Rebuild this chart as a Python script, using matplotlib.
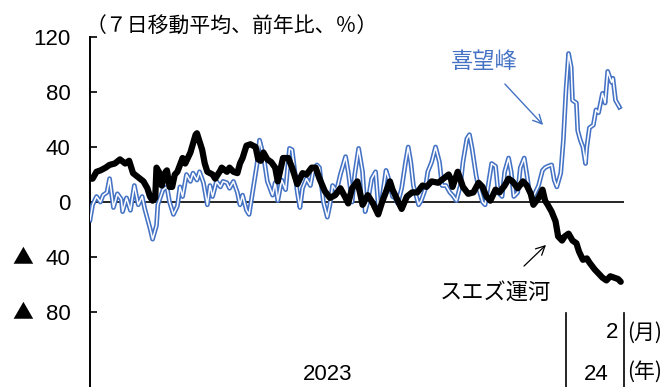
import matplotlib
matplotlib.use("Agg")
import matplotlib.pyplot as plt
import matplotlib.patheffects as pe
import matplotlib.transforms as mtransforms
import pandas as pd


# Cape of Good Hope (喜望峰): 7-day moving average, % y/y
# days counted from 2023-01-01
hope_days = [0, 2, 5, 8, 10, 13, 15, 18, 21, 24, 25, 28, 31, 34, 37, 40, 42, 46, 48, 51,
             52, 56, 59, 61, 64, 67, 69, 71, 74, 77, 79, 82, 84, 87, 90, 92, 94, 97, 100, 102,
             105, 107, 110, 113, 115, 117, 120, 122, 125, 128, 130, 133, 136, 140, 142, 144, 147, 150, 153, 155,
             159, 161, 163, 166, 169, 171, 174, 176, 179, 182, 184, 186, 189, 192, 196, 198, 201, 203, 206, 209,
             211, 213, 216, 219, 221, 224, 227, 229, 232, 234, 236, 239, 242, 244, 246, 248, 252, 254, 257, 259,
             262, 265, 268, 270, 273, 276, 278, 281, 284, 286, 289, 291, 293, 296, 298, 301, 303, 305, 308, 311,
             313, 316, 318, 321, 323, 325, 328, 330, 333, 335, 337, 340, 344, 347, 349, 351, 354, 356, 358, 361,
             363, 365, 367, 369, 370, 373, 374, 376, 378, 380, 381, 383, 386, 388, 390, 393, 395, 397, 400, 401,
             403, 406]
hope_vals = [-13, -2, 4, 0, 5, 7, 17, -4, 6, 2, -7, 3, -6, 12, -2, 4, -5, -19, -27, -17,
             -2, 9, 11, 0, -9, -3, 11, 4, 20, 15, 21, 16, 22, 14, -2, 12, 4, 15, 11, 15,
             14, 10, 15, 7, -2, 5, -6, -9, 9, 27, 45, 34, 15, 5, 14, 1, 16, 9, 39, 38,
             7, -4, 10, 17, 12, 22, 27, 25, 0, -11, -2, 12, 8, 20, 33, 22, 0, 20, 39, 22,
             -7, 0, 17, 22, -2, 3, 23, 17, 4, 3, -1, 10, 29, 40, 29, 12, -2, 1, 9, 22,
             29, 40, 29, 12, 12, 7, 5, 1, 12, 29, 46, 49, 39, 20, 10, 0, -2, 10, 28, 26,
             7, 4, 22, 32, 22, 4, 7, 25, 32, 20, 7, 4, 12, 23, 25, 26, 27, 16, 11, 21,
             45, 81, 108, 98, 74, 72, 52, 45, 40, 28, 40, 54, 56, 67, 65, 79, 72, 95, 87, 90,
             74, 69]

# Suez Canal (スエズ運河)
suez_days = [0, 2, 5, 8, 12, 15, 19, 23, 27, 30, 33, 37, 41, 44, 46, 48, 50, 51, 54, 55,
             58, 59, 61, 63, 65, 67, 71, 73, 77, 81, 82, 84, 86, 88, 90, 94, 96, 100, 101, 105,
             107, 110, 113, 115, 117, 120, 123, 127, 129, 131, 133, 136, 139, 142, 144, 148, 152, 155, 159, 163,
             166, 170, 173, 176, 180, 184, 188, 192, 196, 198, 201, 205, 207, 209, 213, 217, 221, 224, 228, 230,
             232, 236, 239, 243, 247, 251, 255, 258, 262, 267, 271, 275, 277, 278, 282, 286, 290, 294, 298, 301,
             304, 307, 311, 314, 318, 321, 324, 328, 332, 335, 338, 340, 344, 347, 349, 351, 354, 357, 359, 362,
             364, 367, 370, 373, 375, 378, 381, 383, 387, 390, 393, 396, 399, 402, 405, 407]
suez_vals = [17, 17, 22, 23, 25, 27, 28, 31, 28, 30, 21, 18, 15, 10, 4, 1, 3, 25, 20, 12,
             22, 23, 11, 11, 20, 22, 32, 28, 36, 49, 50, 44, 38, 28, 22, 20, 17, 23, 25, 22,
             25, 22, 21, 28, 32, 41, 42, 40, 31, 30, 36, 31, 29, 25, 15, 32, 32, 25, 13, 21,
             20, 25, 25, 17, 8, 3, 5, 10, 3, -1, 10, 15, 7, -2, 5, -1, -9, 0, 10, 15,
             9, 1, -5, 4, 7, 7, 12, 11, 15, 14, 17, 20, 16, 11, 22, 11, 6, 7, 14, 11,
             4, 1, 9, 7, 12, 17, 15, 10, 15, 12, 6, -2, 3, 9, 1, -2, -7, -14, -25, -28,
             -25, -23, -28, -30, -36, -42, -41, -44, -49, -52, -55, -57, -54, -55, -56, -58]

y_ticks = [120, 80, 40, 0, -40, -80]
y_tick_labels = ["120", "80", "40", "0", "40", "80"]

BLUE = "#4472C4"


def main():
    assert len(hope_days) == len(hope_vals)
    assert len(suez_days) == len(suez_vals)

    plt.rcParams["font.family"] = ["Liberation Sans", "Noto Sans CJK JP", "DejaVu Sans"]
    cjk = ["Noto Sans CJK JP", "DejaVu Sans"]

    W, H = 671, 387
    fig = plt.figure(figsize=(W / 100, H / 100), dpi=100)
    ax = fig.add_axes([90 / W, 0, (624 - 90) / W, 1 - 37 / H])

    base = pd.Timestamp("2023-01-01")
    hope_dates = base + pd.to_timedelta(hope_days, unit="D")
    suez_dates = base + pd.to_timedelta(suez_days, unit="D")

    # blue line drawn as an outline (blue edge, white core)
    ax.plot(hope_dates, hope_vals, color="white", lw=1.1, zorder=3,
            path_effects=[pe.Stroke(linewidth=3.4, foreground=BLUE), pe.Normal()])
    ax.plot(suez_dates, suez_vals, color="black", lw=4.5, zorder=4,
            solid_joinstyle="round", solid_capstyle="round")

    ax.axhline(0, color="black", lw=1.2, zorder=2)

    ax.set_xlim(base, base + pd.Timedelta(days=409.5))
    ax.set_ylim(-134.5, 120)
    ax.set_yticks(y_ticks)
    ax.set_yticklabels(y_tick_labels)
    ax.tick_params(axis="y", direction="in", length=5, width=1.2, labelsize=16, pad=14)
    ax.tick_params(axis="x", bottom=False, labelbottom=False)
    for s in ["top", "right", "bottom"]:
        ax.spines[s].set_visible(False)
    ax.spines["left"].set_linewidth(1.4)

    # ▲ marks negative values (Japanese convention)
    trans = mtransforms.blended_transform_factory(fig.transFigure, ax.transData)
    for v in y_ticks:
        if v < 0:
            ax.text(23 / W, v, "▲", transform=trans, fontsize=15, ha="center", va="center",
                    family=cjk)

    # year separators in the category area
    frac = (-80.7 + 134.5) / 254.5
    ax.axvline(pd.Timestamp("2024-01-01"), ymin=0, ymax=frac, color="black", lw=1.2, clip_on=False)
    ax.axvline(base + pd.Timedelta(days=409.5), ymin=0, ymax=frac, color="black", lw=1.2, clip_on=False)

    def ft(x, y, s, **kw):
        fig.text(x / W, 1 - y / H, s, **kw)

    ft(86, 26, "（７日移動平均、前年比、％）", fontsize=15, va="center", ha="left", family=cjk)
    ft(618, 333, "2", fontsize=16, va="center", ha="right")
    ft(596, 375, "24", fontsize=16, va="center", ha="center")
    ft(328, 375, "2023", fontsize=16, va="center", ha="center")
    ft(627, 333, "(月)", fontsize=15, va="center", ha="left", family=cjk)
    ft(627, 372, "(年)", fontsize=15, va="center", ha="left", family=cjk)

    ft(484, 62, "喜望峰", fontsize=16, va="center", ha="center", color=BLUE, family=cjk)
    ft(495, 292, "スエズ運河", fontsize=16, va="center", ha="center", family=cjk)

    ax.annotate("", xy=(545 / W, 1 - 127 / H), xytext=(503 / W, 1 - 82 / H),
                xycoords="figure fraction", textcoords="figure fraction",
                arrowprops=dict(arrowstyle="->", color=BLUE, lw=1.0, mutation_scale=16))
    ax.annotate("", xy=(548 / W, 1 - 243 / H), xytext=(522 / W, 1 - 268 / H),
                xycoords="figure fraction", textcoords="figure fraction",
                arrowprops=dict(arrowstyle="->", color="black", lw=0.9, mutation_scale=16))

    fig.savefig("out.png", dpi=100)


if __name__ == "__main__":
    main()
